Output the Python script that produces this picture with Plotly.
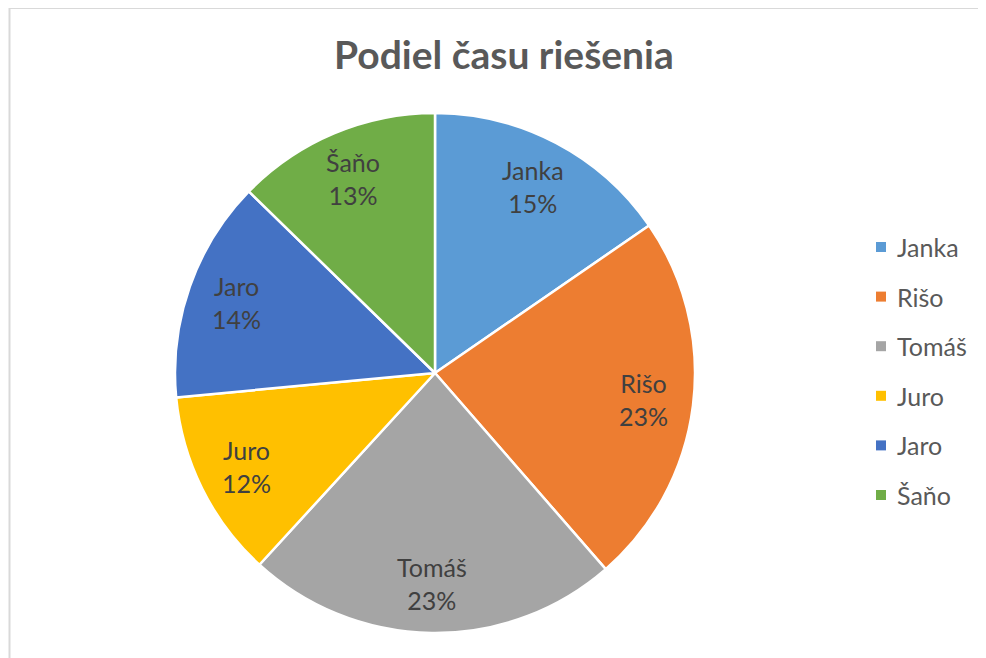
import math
import plotly.graph_objects as go

title = "Podiel času riešenia"
names = ["Janka", "Rišo", "Tomáš", "Juro", "Jaro", "Šaňo"]
values = [15.4, 23.2, 23.2, 11.7, 13.8, 12.7]
colors = ["#5B9BD5", "#ED7D31", "#A5A5A5", "#FFC000", "#4472C4", "#70AD47"]

OFF = 8  # page body margin
W, H = 986 - OFF, 658 - OFF
cx, cy, R = 435 - OFF, 373 - OFF, 260
FONT = "Lato, 'Open Sans', sans-serif"

fig = go.Figure()
fig.add_trace(go.Pie(
    labels=names, values=values, sort=False, direction="clockwise", rotation=0,
    marker=dict(colors=colors, line=dict(color="white", width=2.5)),
    textinfo="none", hoverinfo="label+percent", showlegend=False,
    domain=dict(x=[(cx - R) / W, (cx + R) / W], y=[1 - (cy + R) / H, 1 - (cy - R) / H]),
))

annotations = []
total = sum(values)
cum = 0.0
for n, v in zip(names, values):
    mid = (cum + v / 2) / total * 2 * math.pi
    cum += v
    px = cx + 0.81 * R * math.sin(mid)
    py = cy - 0.81 * R * math.cos(mid)
    annotations.append(dict(
        x=px / W, y=1 - py / H, xref="paper", yref="paper", showarrow=False,
        xanchor="center", yanchor="middle",
        text=f"{n}<br>{round(v / total * 100)}%", align="center",
        font=dict(family=FONT, size=25, color="#404040"),
    ))

# manual legend
shapes = []
lx, ly0, dy = 881 - OFF, 247 - OFF, 49.6
for i, (n, c) in enumerate(zip(names, colors)):
    y = ly0 + i * dy
    shapes.append(dict(type="rect", xref="paper", yref="paper",
                       x0=(lx - 5) / W, x1=(lx + 5) / W, y0=1 - (y + 5) / H, y1=1 - (y - 5) / H,
                       fillcolor=c, line=dict(width=0)))
    annotations.append(dict(x=(lx + 14) / W, y=1 - y / H, xref="paper", yref="paper",
                            showarrow=False, xanchor="left", yanchor="middle", text=n,
                            font=dict(family=FONT, size=25, color="#595959")))

# chart frame lines (top and left)
fy, fx = 7 - OFF + 1, 9.5 - OFF
shapes.append(dict(type="line", xref="paper", yref="paper", x0=fx / W, x1=1, y0=1 - fy / H, y1=1 - fy / H,
                   line=dict(color="#D9D9D9", width=2)))
shapes.append(dict(type="line", xref="paper", yref="paper", x0=fx / W, x1=fx / W, y0=0, y1=1 - fy / H,
                   line=dict(color="#D9D9D9", width=2)))

annotations.append(dict(x=(504 - OFF) / W, y=1 - (54 - OFF) / H, xref="paper", yref="paper", showarrow=False,
                        xanchor="center", yanchor="middle",
                        text=f"<b>{title}</b>", font=dict(family=FONT, size=39, color="#595959")))

fig.update_layout(
    width=W, height=H, margin=dict(l=0, r=0, t=0, b=0),
    paper_bgcolor="white", plot_bgcolor="white",
    annotations=annotations, shapes=shapes, showlegend=False,
)
fig.write_html("out.html")
